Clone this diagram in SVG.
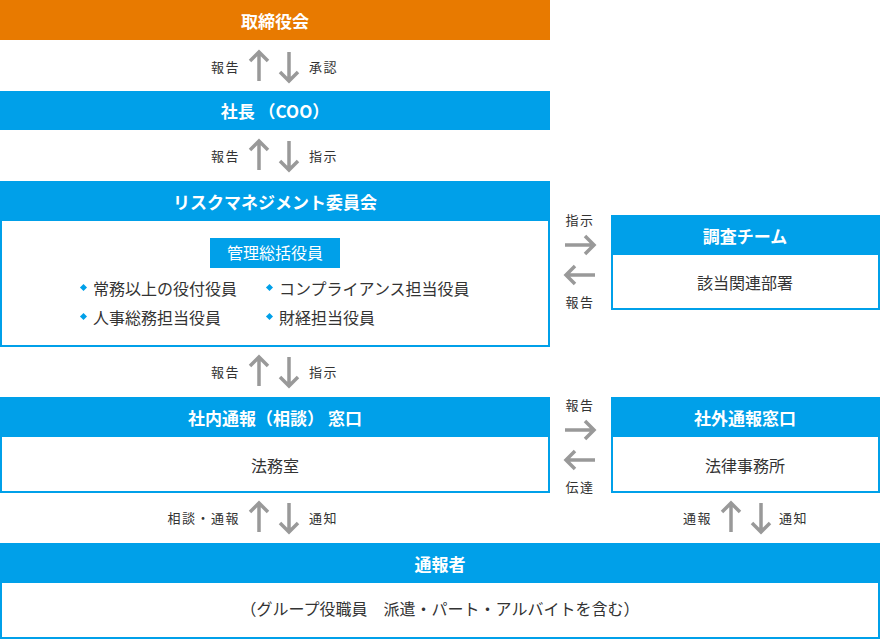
<svg xmlns="http://www.w3.org/2000/svg" width="880" height="639" viewBox="0 0 880 639">
<defs>
<style>
.hd{fill:#00A0E9}
.bx{fill:#fff;stroke:#00A0E9;stroke-width:2}
.ht{font-family:"Noto Sans CJK JP","Noto Sans",sans-serif;font-size:17px;font-weight:bold;fill:#fff;text-anchor:middle}
.bt{font-family:"Noto Sans CJK JP","Noto Sans",sans-serif;font-size:16px;fill:#333;text-anchor:middle}
.lt{font-family:"Noto Sans CJK JP","Noto Sans",sans-serif;font-size:13px;fill:#333;letter-spacing:1.5px}
.ar{fill:none;stroke:#999;stroke-width:3.5}
.dm{fill:#00A0E9}
</style>
<g id="upA"><path class="ar" d="M0,0 V-29 M-9,-20 L0,-29 L9,-20"/></g>
<g id="dnA"><path class="ar" d="M0,0 V29 M-9,20 L0,29 L9,20"/></g>
<g id="rtA"><path class="ar" d="M0,0 H29 M20,-9 L29,0 L20,9"/></g>
<g id="ltA"><path class="ar" d="M0,0 H-29 M-20,-9 L-29,0 L-20,9"/></g>
</defs>
<rect width="880" height="639" fill="#fff"/>

<g id="board">
<rect x="0" y="0" width="550" height="40" fill="#E87A00"/>
<text class="ht" x="275" y="27.5">取締役会</text>
</g>

<g id="president">
<rect class="hd" x="0" y="91" width="550" height="39"/>
<text class="ht" x="275" y="117.5">社長 （COO）</text>
</g>

<g id="risk-committee">
<rect class="bx" x="1" y="182" width="548" height="164"/>
<rect class="hd" x="0" y="181" width="550" height="40"/>
<text class="ht" x="275" y="208.5">リスクマネジメント委員会</text>
<rect class="hd" x="210" y="238" width="130" height="30"/>
<text class="ht" x="275" y="259" style="font-weight:normal;font-size:16px">管理総括役員</text>
<rect class="dm" x="81" y="285" width="5" height="5" transform="rotate(45 83.5 287.5)"/>
<text class="bt" x="93" y="295" style="text-anchor:start">常務以上の役付役員</text>
<rect class="dm" x="267" y="285" width="5" height="5" transform="rotate(45 269.5 287.5)"/>
<text class="bt" x="279" y="295" style="text-anchor:start">コンプライアンス担当役員</text>
<rect class="dm" x="81" y="314" width="5" height="5" transform="rotate(45 83.5 316.5)"/>
<text class="bt" x="93" y="324" style="text-anchor:start">人事総務担当役員</text>
<rect class="dm" x="267" y="314" width="5" height="5" transform="rotate(45 269.5 316.5)"/>
<text class="bt" x="279" y="324" style="text-anchor:start">財経担当役員</text>
</g>

<g id="investigation-team">
<rect class="bx" x="612" y="216" width="267" height="93"/>
<rect class="hd" x="611" y="215" width="269" height="40"/>
<text class="ht" x="745" y="242.5">調査チーム</text>
<text class="bt" x="745" y="289">該当関連部署</text>
</g>

<g id="internal-desk">
<rect class="bx" x="1" y="398" width="548" height="94"/>
<rect class="hd" x="0" y="397" width="550" height="40"/>
<text class="ht" x="275" y="424.5">社内通報（相談） 窓口</text>
<text class="bt" x="275" y="472">法務室</text>
</g>

<g id="external-desk">
<rect class="bx" x="612" y="398" width="267" height="94"/>
<rect class="hd" x="611" y="397" width="269" height="40"/>
<text class="ht" x="745" y="424.5">社外通報窓口</text>
<text class="bt" x="745" y="472">法律事務所</text>
</g>

<g id="reporter">
<rect class="bx" x="1" y="544" width="878" height="94"/>
<rect class="hd" x="0" y="543" width="880" height="40"/>
<text class="ht" x="440" y="570.5">通報者</text>
<text class="bt" x="440" y="615">（グループ役職員　派遣・パート・アルバイトを含む）</text>
</g>

<g id="connectors">
<use href="#upA" x="259" y="81"/><use href="#dnA" x="289" y="52"/>
<text class="lt" x="240" y="72" text-anchor="end">報告</text>
<text class="lt" x="309" y="72">承認</text>

<use href="#upA" x="259" y="170"/><use href="#dnA" x="289" y="141"/>
<text class="lt" x="240" y="161" text-anchor="end">報告</text>
<text class="lt" x="309" y="161">指示</text>

<use href="#rtA" x="565" y="245"/><use href="#ltA" x="595" y="275"/>
<text class="lt" x="580" y="225" text-anchor="middle">指示</text>
<text class="lt" x="580" y="307" text-anchor="middle">報告</text>

<use href="#upA" x="259" y="386"/><use href="#dnA" x="289" y="357"/>
<text class="lt" x="240" y="377" text-anchor="end">報告</text>
<text class="lt" x="309" y="377">指示</text>

<use href="#rtA" x="565" y="430"/><use href="#ltA" x="595" y="460"/>
<text class="lt" x="580" y="410" text-anchor="middle">報告</text>
<text class="lt" x="580" y="492" text-anchor="middle">伝達</text>

<use href="#upA" x="259" y="532"/><use href="#dnA" x="289" y="503"/>
<text class="lt" x="240" y="523" text-anchor="end">相談・通報</text>
<text class="lt" x="309" y="523">通知</text>

<use href="#upA" x="731" y="532"/><use href="#dnA" x="761" y="503"/>
<text class="lt" x="712" y="523" text-anchor="end">通報</text>
<text class="lt" x="779" y="523">通知</text>
</g>
</svg>
